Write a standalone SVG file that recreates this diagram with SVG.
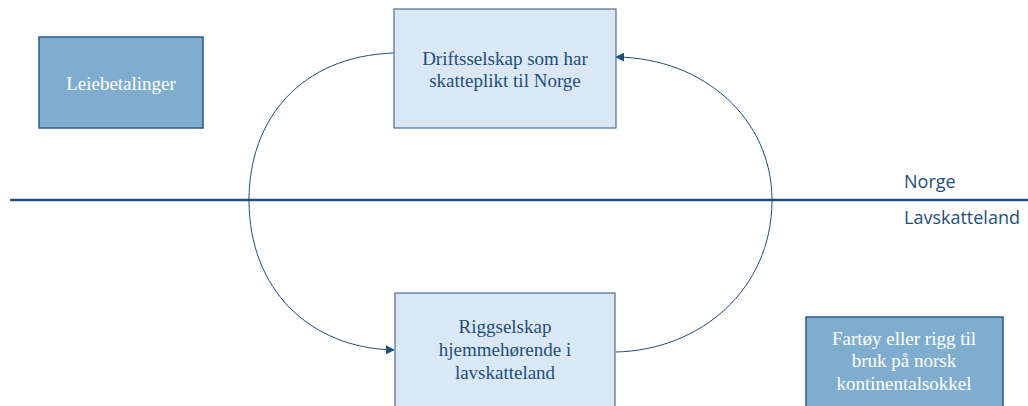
<svg xmlns="http://www.w3.org/2000/svg" width="1028" height="406" viewBox="0 0 1028 406">
<defs>
<style>
.light{fill:#dae8f6;stroke:#4a6f91;stroke-width:1.2}
.dark{fill:#7fadcf;stroke:#2e5b84;stroke-width:1.5}
.tl{font-family:"Liberation Serif",serif;font-size:19px;fill:#1f4e79;text-anchor:middle}
.tw{font-family:"Liberation Serif",serif;font-size:19px;fill:#ffffff;text-anchor:middle}
.lbl{font-family:"Open Sans",sans-serif;font-size:18px;fill:#1f4e79}
.conn{fill:none;stroke:#1f4e79;stroke-width:1}
</style>
<marker id="ah" viewBox="0 0 10 10" refX="9" refY="5" markerWidth="9" markerHeight="9" markerUnits="userSpaceOnUse" orient="auto">
<path d="M0,0 L10,5 L0,10 z" fill="#1f4e79"/>
</marker>
</defs>
<rect width="1028" height="406" fill="#ffffff"/>
<g id="divider">
<line x1="10" y1="200" x2="1028" y2="200" stroke="#1f4e79" stroke-width="2.5"/>
<text class="lbl" x="904" y="188">Norge</text>
<text class="lbl" x="904" y="224">Lavskatteland</text>
</g>
<g id="connectors">
<path class="conn" d="M394,53 C300,56 249,120 249,200 C249,290 310,348 394,350" marker-end="url(#ah)"/>
<path class="conn" d="M616,352 C700,350 772,290 772,200 C772,120 705,58 616,57" marker-end="url(#ah)"/>
</g>
<g id="leiebetalinger">
<rect class="dark" x="39" y="37" width="164" height="91"/>
<text class="tw" x="121" y="90">Leiebetalinger</text>
</g>
<g id="driftsselskap">
<rect class="light" x="394" y="9" width="222" height="119"/>
<text class="tl" x="505" y="65">Driftsselskap som har</text>
<text class="tl" x="505" y="87">skatteplikt til Norge</text>
</g>
<g id="riggselskap">
<rect class="light" x="395" y="293" width="220" height="120"/>
<text class="tl" x="505" y="333">Riggselskap</text>
<text class="tl" x="505" y="356">hjemmehørende i</text>
<text class="tl" x="505" y="379">lavskatteland</text>
</g>
<g id="fartoy">
<rect class="dark" x="806" y="317" width="197" height="100"/>
<text class="tw" x="904" y="345">Fartøy eller rigg til</text>
<text class="tw" x="904" y="367">bruk på norsk</text>
<text class="tw" x="904" y="390">kontinentalsokkel</text>
</g>
</svg>
